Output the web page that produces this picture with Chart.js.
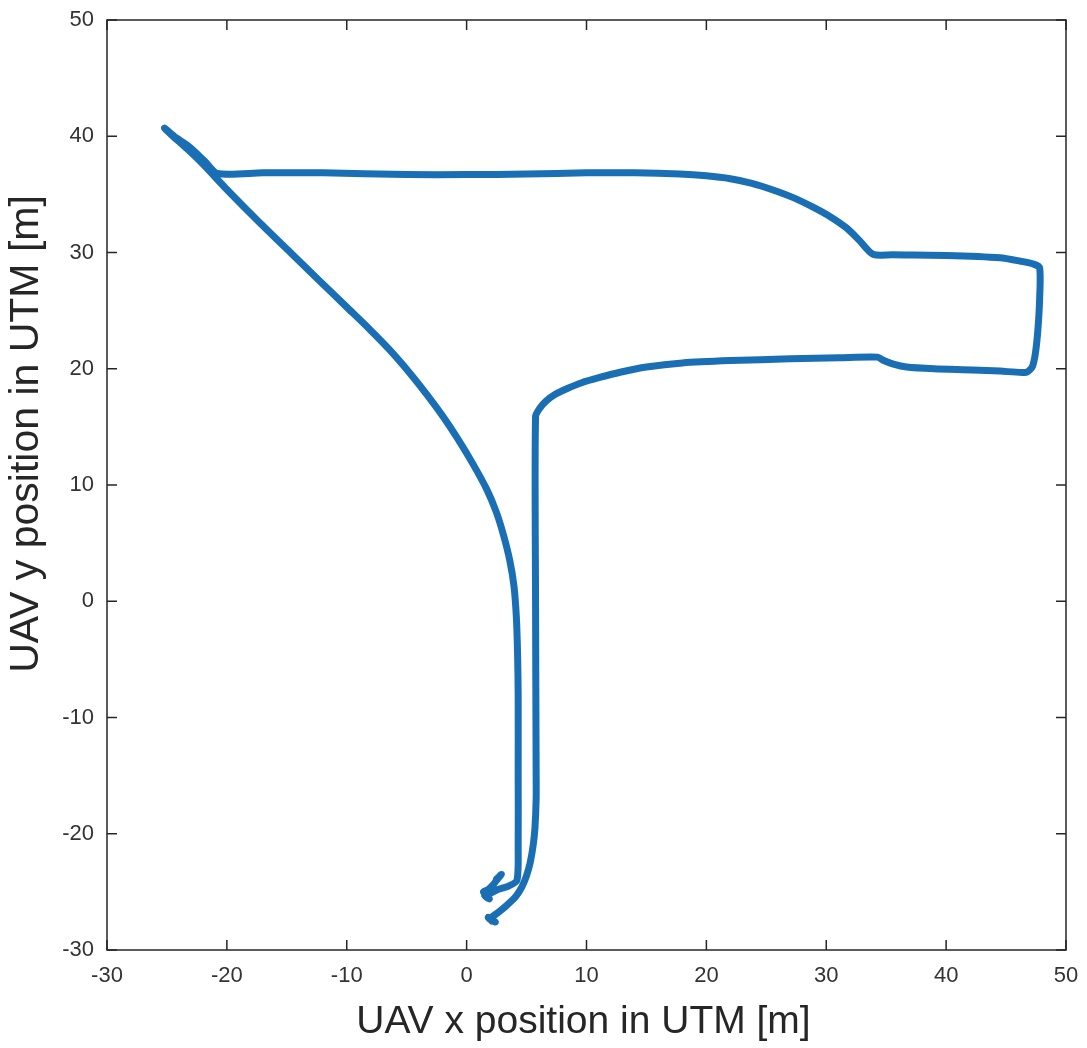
<!DOCTYPE html>
<html>
<head>
<meta charset="utf-8">
<title>UAV trajectory</title>
<script src="https://cdn.jsdelivr.net/npm/chart.js@4.4.1/dist/chart.umd.min.js"></script>
<style>
  html, body { margin: 0; padding: 0; background: #fff; }
  #wrap { width: 1087px; height: 1048px; }
</style>
</head>
<body>
<div id="wrap"><canvas id="trajectory" width="1087" height="1048"></canvas></div>
<script>
// UAV track in UTM (metres)
const pathX = [2.1, 1.8, 2.4, 2.0, 2.6, 3.3, 4.1, 4.6, 5.0, 5.3, 5.55, 5.7, 5.8, 5.8, 5.75, 5.75,
  6.1, 6.6, 7.4, 8.4, 9.6, 11.1, 12.8, 15.0, 18.0, 22.0, 27.0, 31.1, 34.3, 34.7,
  35.6, 36.7, 39.0, 42.2, 44.5, 46.7, 47.2, 47.45, 47.65, 47.8, 47.8, 47.3, 46.2, 44.5, 40.0, 35.5, 33.9,
  32.8, 31.7, 30.3, 28.9, 27.3, 25.5, 23.8, 22.0, 20.0, 17.8, 14.0, 10.0, 5.0, 0.0, -5.0, -12.0, -17.0, -20.8,
  -21.8, -22.6, -23.4, -24.4, -25.2, -24.6, -23.3, -22.0, -19.8, -17.3, -14.7, -12.3, -10.0, -8.1, -6.4,
  -4.8, -3.3, -2.0, -0.8, 0.5, 1.7, 2.5, 3.1, 3.6, 3.95, 4.15, 4.25, 4.3, 4.3, 4.3, 4.2, 3.5, 2.6, 2.0,
  1.5, 1.9, 1.4, 1.8, 2.2, 2.5, 2.9, 2.5, 2.8];
const pathY = [-27.5, -27.2, -27.6, -27.3, -26.8, -26.2, -25.4, -24.6, -23.6, -22.5, -21.0, -19.5, -17.0, -15.0, 0.0, 15.9,
  16.6, 17.2, 17.8, 18.3, 18.8, 19.25, 19.7, 20.15, 20.5, 20.7, 20.85, 20.95, 21.0, 20.75,
  20.4, 20.15, 20.0, 19.9, 19.8, 19.7, 20.2, 21.35, 23.3, 26.0, 28.7, 29.0, 29.25, 29.55, 29.75, 29.8, 29.85,
  31.0, 32.1, 33.1, 33.9, 34.7, 35.4, 35.95, 36.35, 36.6, 36.75, 36.85, 36.85, 36.75, 36.7, 36.7, 36.85, 36.85, 36.8,
  37.8, 38.6, 39.3, 40.0, 40.7, 40.1, 38.9, 37.6, 35.2, 32.6, 30.0, 27.6, 25.3, 23.4, 21.6,
  19.7, 17.75, 15.93, 14.07, 11.86, 9.58, 7.6, 5.6, 3.5, 1.3, -1.4, -4.5, -8.0, -15.0, -21.0, -24.0, -24.5, -24.8, -25.1,
  -25.3, -25.6, -25.0, -24.8, -24.4, -24.0, -23.5, -23.9, -23.6];

const xTicks = [-30, -20, -10, 0, 10, 20, 30, 40, 50];
const yTicks = [-30, -20, -10, 0, 10, 20, 30, 40, 50];

const xLabel = "UAV x position in UTM [m]";
const yLabel = "UAV y position in UTM [m]";

const points = pathX.map((x, i) => ({ x: x, y: pathY[i] }));

const axisColor = '#262626';
const labelFont = '"Liberation Sans", Arial, Helvetica, sans-serif';

// box round the axes, inward ticks on all four sides, axis titles
const boxPlugin = {
  id: 'matlabBox',
  afterDraw(chart) {
    const { ctx, chartArea: a, scales } = chart;
    const len = 10;
    ctx.save();
    ctx.strokeStyle = axisColor;
    ctx.lineWidth = 1.5;
    ctx.strokeRect(a.left, a.top, a.right - a.left, a.bottom - a.top);
    ctx.beginPath();
    xTicks.forEach(v => {
      const px = scales.x.getPixelForValue(v);
      ctx.moveTo(px, a.bottom); ctx.lineTo(px, a.bottom - len);
      ctx.moveTo(px, a.top); ctx.lineTo(px, a.top + len);
    });
    yTicks.forEach(v => {
      const py = scales.y.getPixelForValue(v);
      ctx.moveTo(a.left, py); ctx.lineTo(a.left + len, py);
      ctx.moveTo(a.right, py); ctx.lineTo(a.right - len, py);
    });
    ctx.stroke();

    ctx.fillStyle = axisColor;
    ctx.textAlign = 'center';
    ctx.textBaseline = 'alphabetic';
    ctx.font = '39px ' + labelFont;
    ctx.fillText(xLabel, (a.left + a.right) / 2 - 3, 1033);

    ctx.font = '41px ' + labelFont;
    ctx.translate(38, 434);
    ctx.rotate(-Math.PI / 2);
    ctx.fillText(yLabel, 0, 0);
    ctx.restore();
  }
};

new Chart(document.getElementById('trajectory'), {
  type: 'scatter',
  data: {
    datasets: [{
      label: 'UAV path',
      data: points,
      showLine: true,
      borderColor: '#1a6fb4',
      borderWidth: 7,
      borderJoinStyle: 'round',
      borderCapStyle: 'round',
      pointRadius: 0,
      pointHoverRadius: 0,
      fill: false,
      tension: 0.25
    }]
  },
  options: {
    responsive: false,
    animation: false,
    devicePixelRatio: 1,
    layout: { padding: { top: 20, right: 21, left: 0, bottom: 0 } },
    plugins: {
      legend: { display: false },
      tooltip: { enabled: false }
    },
    scales: {
      x: {
        type: 'linear',
        min: -30,
        max: 50,
        grid: { display: false, drawTicks: false },
        border: { display: false },
        afterBuildTicks: s => { s.ticks = xTicks.map(v => ({ value: v })); },
        afterFit: s => { s.height = 98; s.paddingLeft = 0; s.paddingRight = 0; },
        ticks: {
          padding: 13,
          maxRotation: 0,
          color: '#333333',
          font: { family: labelFont, size: 22 }
        }
      },
      y: {
        type: 'linear',
        min: -30,
        max: 50,
        grid: { display: false, drawTicks: false },
        border: { display: false },
        afterBuildTicks: s => { s.ticks = yTicks.map(v => ({ value: v })); },
        afterFit: s => { s.width = 107; s.paddingTop = 0; s.paddingBottom = 0; },
        ticks: {
          padding: 13,
          color: '#333333',
          font: { family: labelFont, size: 22 }
        }
      }
    }
  },
  plugins: [boxPlugin]
});
</script>
</body>
</html>
